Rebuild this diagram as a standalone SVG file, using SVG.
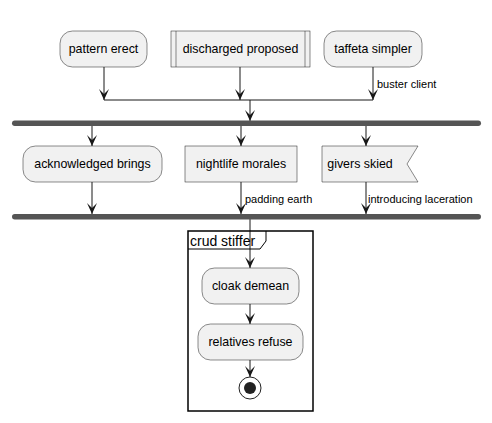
<svg xmlns="http://www.w3.org/2000/svg" width="492" height="423" viewBox="0 0 492 423">
<defs>
<style>
.n{fill:#F1F1F1;stroke:#181818;stroke-width:0.5}
.t{font-family:"Liberation Sans",Arial,sans-serif;font-size:12.4px;fill:#000;text-anchor:middle}
.l{font-family:"Liberation Sans",Arial,sans-serif;font-size:11px;fill:#000}
.e{fill:none;stroke:#181818;stroke-width:1}
.bar{fill:#555555;stroke:none}
</style>
<path id="ah" d="M-5,-11 L0,0 L5,-11 L0,-6 Z" fill="#181818"/>
</defs>
<rect width="492" height="423" fill="#FFFFFF"/>
<g id="connectors">
<path class="e" d="M104,67 V100 M240,67 V100 M373,67 V100 M104,100 H373 M250,100 V121"/>
<path class="e" d="M92,126 V146 M241,126 V146 M366,126 V146"/>
<path class="e" d="M92,182 V214 M241,182 V214 M366,182 V214"/>
<path class="e" d="M250,219 V268 M250,304 V324 M250,360 V377"/>
<use href="#ah" x="104" y="100"/>
<use href="#ah" x="240" y="100"/>
<use href="#ah" x="373" y="100"/>
<use href="#ah" x="250" y="121"/>
<use href="#ah" x="92" y="146"/>
<use href="#ah" x="241" y="146"/>
<use href="#ah" x="366" y="146"/>
<use href="#ah" x="92" y="214"/>
<use href="#ah" x="241" y="214"/>
<use href="#ah" x="366" y="214"/>
<use href="#ah" x="250" y="268"/>
<use href="#ah" x="250" y="324"/>
<use href="#ah" x="250" y="377"/>
<text class="l" x="377" y="88">buster client</text>
<text class="l" x="245" y="203">padding earth</text>
<text class="l" x="368" y="203">introducing laceration</text>
</g>
<g id="fork1"><rect class="bar" x="12" y="120.5" width="469" height="5.5" rx="2.75"/></g>
<g id="fork2"><rect class="bar" x="12" y="214" width="469" height="5.5" rx="2.75"/></g>
<g id="pattern-erect">
<rect class="n" x="60" y="31" width="87" height="36" rx="12.5"/>
<text class="t" x="103.5" y="53">pattern erect</text>
</g>
<g id="discharged-proposed">
<rect class="n" x="171" y="31" width="139" height="36"/>
<path class="e" d="M176,31 V67 M305,31 V67" style="stroke-width:0.5"/>
<text class="t" x="240.5" y="53">discharged proposed</text>
</g>
<g id="taffeta-simpler">
<rect class="n" x="324" y="31" width="98" height="36" rx="12.5"/>
<text class="t" x="373" y="53">taffeta simpler</text>
</g>
<g id="acknowledged-brings">
<rect class="n" x="23" y="146" width="139" height="36" rx="12.5"/>
<text class="t" x="92.5" y="168">acknowledged brings</text>
</g>
<g id="nightlife-morales">
<rect class="n" x="185" y="146" width="112" height="36"/>
<text class="t" x="241" y="168">nightlife morales</text>
</g>
<g id="givers-skied">
<polygon class="n" points="322,146 418,146 407,164 418,182 322,182"/>
<text class="t" x="360" y="168">givers skied</text>
</g>
<g id="crud-stiffer">
<rect x="188" y="231" width="125" height="180" fill="none" stroke="#000" stroke-width="1.5"/>
<path d="M188,249 H260 L266,241 V231" fill="none" stroke="#000" stroke-width="1"/>
<text x="190" y="246" style="font-family:'Liberation Sans',Arial,sans-serif;font-size:14px;fill:#000">crud stiffer</text>
</g>
<g id="cloak-demean">
<rect class="n" x="202" y="268" width="97" height="36" rx="12.5"/>
<text class="t" x="250.5" y="290">cloak demean</text>
</g>
<g id="relatives-refuse">
<rect class="n" x="198" y="324" width="105" height="36" rx="12.5"/>
<text class="t" x="250.5" y="346">relatives refuse</text>
</g>
<g id="end">
<circle cx="250" cy="388" r="11" fill="none" stroke="#222222" stroke-width="1"/>
<circle cx="250" cy="388" r="6" fill="#222222"/>
</g>
</svg>
